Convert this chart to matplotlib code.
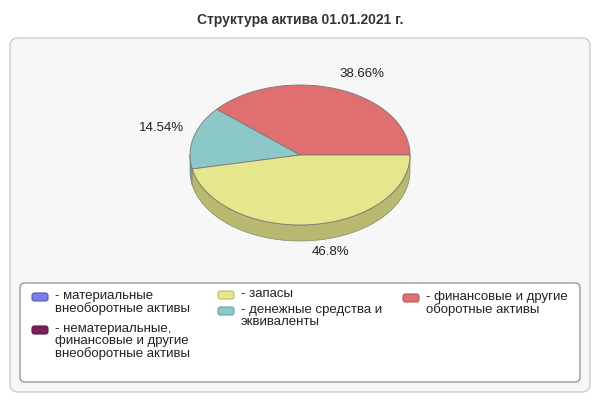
import numpy as np
import matplotlib.pyplot as plt
from matplotlib.patches import Polygon, FancyBboxPatch

plt.rcParams['font.family'] = ['Liberation Sans', 'DejaVu Sans']

title = "Структура актива 01.01.2021 г."
categories = [
    "- материальные\nвнеоборотные активы",
    "- нематериальные,\nфинансовые и другие\nвнеоборотные активы",
    "- запасы",
    "- денежные средства и\nэквиваленты",
    "- финансовые и другие\nоборотные активы",
]
values = [0.0, 0.0, 46.8, 14.54, 38.66]
colors = ["#7b7bef", "#7a1f5a", "#e6e68c", "#8cc8c8", "#e07070"]
side_colors = ["#5a5ab0", "#5a1040", "#b8b870", "#6aa0a0", "#b05858"]
# drawing order on the pie: counterclockwise from 3 o'clock
pie_order = [4, 3, 2]
label_pos = {4: (362, 74), 3: (162, 128), 2: (330, 252)}

fig = plt.figure(figsize=(6, 4), dpi=100)
ax = fig.add_axes([0, 0, 1, 1])
ax.set_xlim(0, 600)
ax.set_ylim(400, 0)
ax.axis("off")

ax.text(300, 20, title, ha="center", va="center", fontsize=10, fontweight="bold", color="#333333")
ax.add_patch(FancyBboxPatch((10, 38), 580, 354, boxstyle="round,pad=0,rounding_size=8",
                            fc="#f7f7f7", ec="#cccccc", lw=1))

cx, cy, rx, ry, depth = 300, 155, 110, 70, 16
total = sum(values)


def edge(t0, t1, dy=0, n=80):
    t = np.linspace(t0, t1, n)
    return np.column_stack([cx + rx * np.cos(t), cy - ry * np.sin(t) + dy])


start = 0.0
spans = []
for i in pie_order:
    a = values[i] / total * 2 * np.pi
    spans.append((i, start, start + a))
    start += a
for i, t0, t1 in spans:
    lo, hi = max(t0, np.pi), min(t1, 2 * np.pi)
    if hi > lo:
        top = edge(lo, hi)
        bot = edge(hi, lo, depth)
        ax.add_patch(Polygon(np.vstack([top, bot]), closed=True, fc=side_colors[i],
                             ec="#888866", lw=0.5))
for i, t0, t1 in spans:
    pts = np.vstack([[cx, cy], edge(t0, t1)])
    ax.add_patch(Polygon(pts, closed=True, fc=colors[i], ec="#777777", lw=0.6))
    x, y = label_pos[i]
    ax.text(x, y, f"{values[i]:g}%", ha="center", va="center", fontsize=9.5, color="#222222")

# legend
ax.add_patch(FancyBboxPatch((20, 283), 560, 99, boxstyle="round,pad=0,rounding_size=5",
                            fc="#ffffff", ec="#999999", lw=1))
leg = [(32, 297), (32, 330), (218, 295), (218, 311), (403, 298)]
for (x, y), lab, c, sc in zip(leg, categories, colors, side_colors):
    ax.add_patch(FancyBboxPatch((x, y - 4), 16, 8, boxstyle="round,pad=0,rounding_size=2.5",
                                fc=c, ec=sc, lw=0.8))
    ax.text(x + 23, y - 7, lab, ha="left", va="top", fontsize=9.5, color="#222222",
            linespacing=1.0)

fig.savefig("out.png", dpi=100, facecolor="white")
